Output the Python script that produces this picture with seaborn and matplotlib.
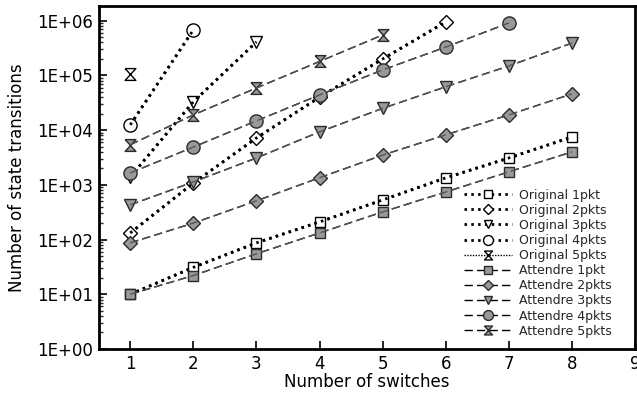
import numpy as np
import pandas as pd
import matplotlib
matplotlib.use("Agg")
import matplotlib.pyplot as plt
import seaborn as sns
from matplotlib.ticker import FixedLocator, FuncFormatter, LogLocator, NullFormatter

sns.set_theme(style="white")
plt.rcParams['font.family'] = ['DejaVu Sans']

switches = [1, 2, 3, 4, 5, 6, 7, 8]

orig_1pkt = [10, 31, 87, 210, 530, 1340, 3100, 7500]
orig_2pkts = [132, 1080, 7200, 40000, 200000, 950000]
orig_3pkts = [1400, 33000, 410000]
orig_4pkts = [12500, 680000]
orig_5pkts = [107000]

att_1pkt = [10, 22, 55, 132, 320, 740, 1730, 4000]
att_2pkts = [87, 200, 510, 1350, 3500, 8200, 19000, 46000]
att_3pkts = [430, 1130, 3100, 9300, 25000, 62000, 149000, 390000]
att_4pkts = [1650, 4900, 14800, 44000, 126000, 330000, 910000]
att_5pkts = [5400, 19000, 59000, 180000, 550000]

labels_orig = ["Original 1pkt", "Original 2pkts", "Original 3pkts", "Original 4pkts", "Original 5pkts"]
labels_att = ["Attendre 1pkt", "Attendre 2pkts", "Attendre 3pkts", "Attendre 4pkts", "Attendre 5pkts"]

hourglass = [(-1, 1.1), (1, 1.1), (-1, -1.1), (1, -1.1), (-1, 1.1)]
markers = ['s', 'D', 'v', 'o', hourglass]
msizes = [7.5, 7.0, 8.5, 9.5, 8.5]

fig = plt.figure(figsize=(6.37, 3.97), dpi=100)
ax = fig.add_axes([0.155, 0.121, 0.842, 0.864])

orig_data = [orig_1pkt, orig_2pkts, orig_3pkts, orig_4pkts, orig_5pkts]
att_data = [att_1pkt, att_2pkts, att_3pkts, att_4pkts, att_5pkts]

DOT = (0, (0.9, 1.55))
DASH = (0, (6, 3))

for i, (vals, lab) in enumerate(zip(orig_data, labels_orig)):
    xs = switches[:len(vals)]
    if i < 4:
        ls = DOT; lw = 2.0
    else:
        ls = (0, (1, 1)); lw = 1.0
    sns.lineplot(x=xs, y=vals, ax=ax, label=lab, color='black', linestyle=ls,
                 linewidth=lw, marker=markers[i], markersize=msizes[i],
                 markerfacecolor='white', markeredgecolor='black',
                 markeredgewidth=1.0, estimator=None, sort=False, zorder=2)
    # line drawn over the markers, as in the reference
    sns.lineplot(x=xs, y=vals, ax=ax, color='black', linestyle=ls,
                 linewidth=lw, estimator=None, sort=False, zorder=2.5)

for i, (vals, lab) in enumerate(zip(att_data, labels_att)):
    xs = switches[:len(vals)]
    sns.lineplot(x=xs, y=vals, ax=ax, label=lab, color='black', linestyle=DASH,
                 linewidth=1.0, marker=markers[i], markersize=msizes[i],
                 markerfacecolor='#999999', markeredgecolor='#2a2a2a',
                 markeredgewidth=1.0, estimator=None, sort=False, zorder=3)
    sns.lineplot(x=xs, y=vals, ax=ax, color='#555555', linestyle=DASH,
                 linewidth=1.0, estimator=None, sort=False, zorder=3.5)

ax.set_yscale('log')
ax.set_xlim(0.5, 9)
ax.set_ylim(1, 1.86e6)
ax.xaxis.set_major_locator(FixedLocator([1, 2, 3, 4, 5, 6, 7, 8, 9]))
ax.yaxis.set_major_locator(FixedLocator([1e0, 1e1, 1e2, 1e3, 1e4, 1e5, 1e6]))
ax.yaxis.set_major_formatter(FuncFormatter(lambda v, p: "1E+%02d" % int(round(np.log10(v)))))
ax.yaxis.set_minor_locator(LogLocator(base=10, subs=np.arange(2, 10)))
ax.yaxis.set_minor_formatter(NullFormatter())

for s in ax.spines.values():
    s.set_color('black')
    s.set_linewidth(2.0)
ax.tick_params(axis='both', which='major', direction='in', length=6, width=1.2,
               labelsize=12, colors='black', top=False, right=False, left=True, bottom=True, pad=4)
ax.tick_params(axis='y', which='minor', direction='in', length=3, width=1.0, left=True, right=False)

ax.set_xlabel("Number of switches", fontsize=12, color='black', labelpad=0)
ax.set_ylabel("Number of state transitions", fontsize=12, color='black', labelpad=8)

ax.legend(loc='lower right', frameon=False, fontsize=9, handlelength=3.8,
          labelspacing=0.17, borderaxespad=0.5, handletextpad=0.6,
          markerscale=0.75, bbox_to_anchor=(0.978, 0.0))

fig.savefig("out.png", dpi=100)
